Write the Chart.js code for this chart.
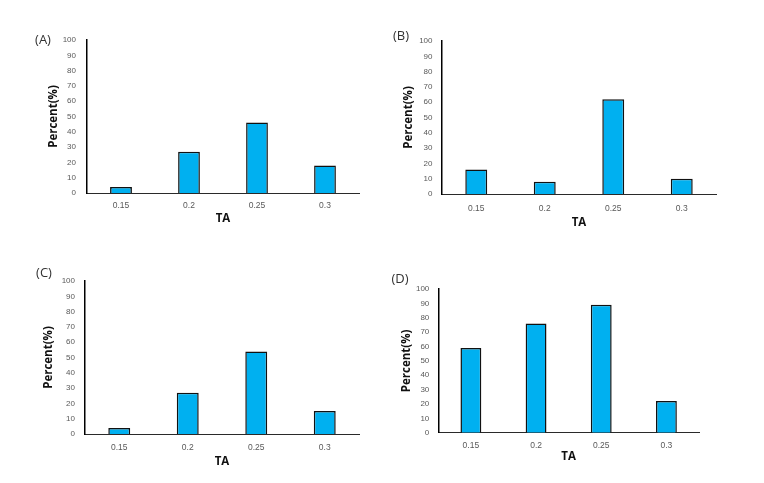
<!DOCTYPE html>
<html>
<head>
<meta charset="utf-8">
<script src="https://cdn.jsdelivr.net/npm/chart.js@4.4.0/dist/chart.umd.min.js"></script>
<style>
  html, body { margin: 0; padding: 0; background: #fff; }
  #wrap { position: relative; width: 764px; height: 483px; overflow: hidden; }
  canvas { position: absolute; left: 0; top: 0; }
  .tag { position: absolute; font-family: "Open Sans", sans-serif; font-size: 13px; color: #333; line-height: 1; transform: translate(-50%, -50%); }
</style>
</head>
<body>
<div id="wrap">
  <canvas id="cA" width="764" height="483"></canvas>
  <canvas id="cB" width="764" height="483"></canvas>
  <canvas id="cC" width="764" height="483"></canvas>
  <canvas id="cD" width="764" height="483"></canvas>
  <div class="tag" style="left:43px;top:39px;">(A)</div>
  <div class="tag" style="left:401px;top:35px;">(B)</div>
  <div class="tag" style="left:44px;top:272px;">(C)</div>
  <div class="tag" style="left:400px;top:278px;">(D)</div>
</div>
<script>
// Data
const categories = ["0.15", "0.2", "0.25", "0.3"];
const valuesA = [4, 27, 46, 18];
const valuesB = [16, 8, 62, 10];
const valuesC = [4, 27, 54, 15];
const valuesD = [59, 76, 89, 22];
const yTicks = [0, 10, 20, 30, 40, 50, 60, 70, 80, 90, 100];
const xTitle = "TA";
const yTitle = "Percent(%)";

// Layout per panel (chart area and label offsets)
const panels = [
  { id: "cA", data: valuesA, box: { left: 47, right: 359, top: 40, bottom: 225.6 }, wy: 40, hx: 32.6, ypad: 11, xpad: 8 },
  { id: "cB", data: valuesB, box: { left: 402.3, right: 716, top: 41, bottom: 229.3 }, wy: 39.7, hx: 35.3, ypad: 9.5, xpad: 9.5 },
  { id: "cC", data: valuesC, box: { left: 42.3, right: 359, top: 281, bottom: 468.3 }, wy: 42.7, hx: 34.3, ypad: 10, xpad: 8.5 },
  { id: "cD", data: valuesD, box: { left: 400, right: 699, top: 289, bottom: 463.6 }, wy: 38.3, hx: 30.9, ypad: 9, xpad: 8.2 }
];

const W = 764, H = 483;

panels.forEach(p => {
  new Chart(document.getElementById(p.id), {
    type: "bar",
    data: {
      labels: categories,
      datasets: [{
        data: p.data,
        backgroundColor: "#00B0F0",
        borderColor: "#111111",
        borderWidth: 1.5,
        categoryPercentage: 1.0,
        barPercentage: 0.32
      }]
    },
    options: {
      responsive: false,
      animation: false,
      devicePixelRatio: 1,
      layout: {
        padding: {
          left: p.box.left,
          right: W - p.box.right,
          top: p.box.top,
          bottom: H - p.box.bottom
        }
      },
      plugins: { legend: { display: false }, tooltip: { enabled: false }, title: { display: false } },
      scales: {
        x: {
          type: "category",
          offset: true,
          grid: { display: false, drawTicks: false },
          border: { display: true, color: "#2a2a2a", width: 1 },
          ticks: { color: "#595959", font: { family: "Liberation Sans", size: 8.5 }, padding: p.xpad, maxRotation: 0 },
          title: { display: true, text: xTitle, color: "#111", font: { family: "Open Sans", size: 11.5, weight: "bold" }, padding: 0 },
          afterFit: s => { s.height = p.hx; }
        },
        y: {
          min: 0,
          max: 100,
          afterBuildTicks: s => { s.ticks = yTicks.map(v => ({ value: v })); },
          grid: { display: false, drawTicks: false },
          border: { display: true, color: "#000", width: 1.5 },
          ticks: { color: "#595959", font: { family: "Liberation Sans", size: 8 }, padding: p.ypad },
          title: { display: true, text: yTitle, color: "#111", font: { family: "Open Sans", size: 11.5, weight: "bold" }, padding: 0 },
          afterFit: s => { s.width = p.wy; }
        }
      }
    }
  });
});
</script>
</body>
</html>
